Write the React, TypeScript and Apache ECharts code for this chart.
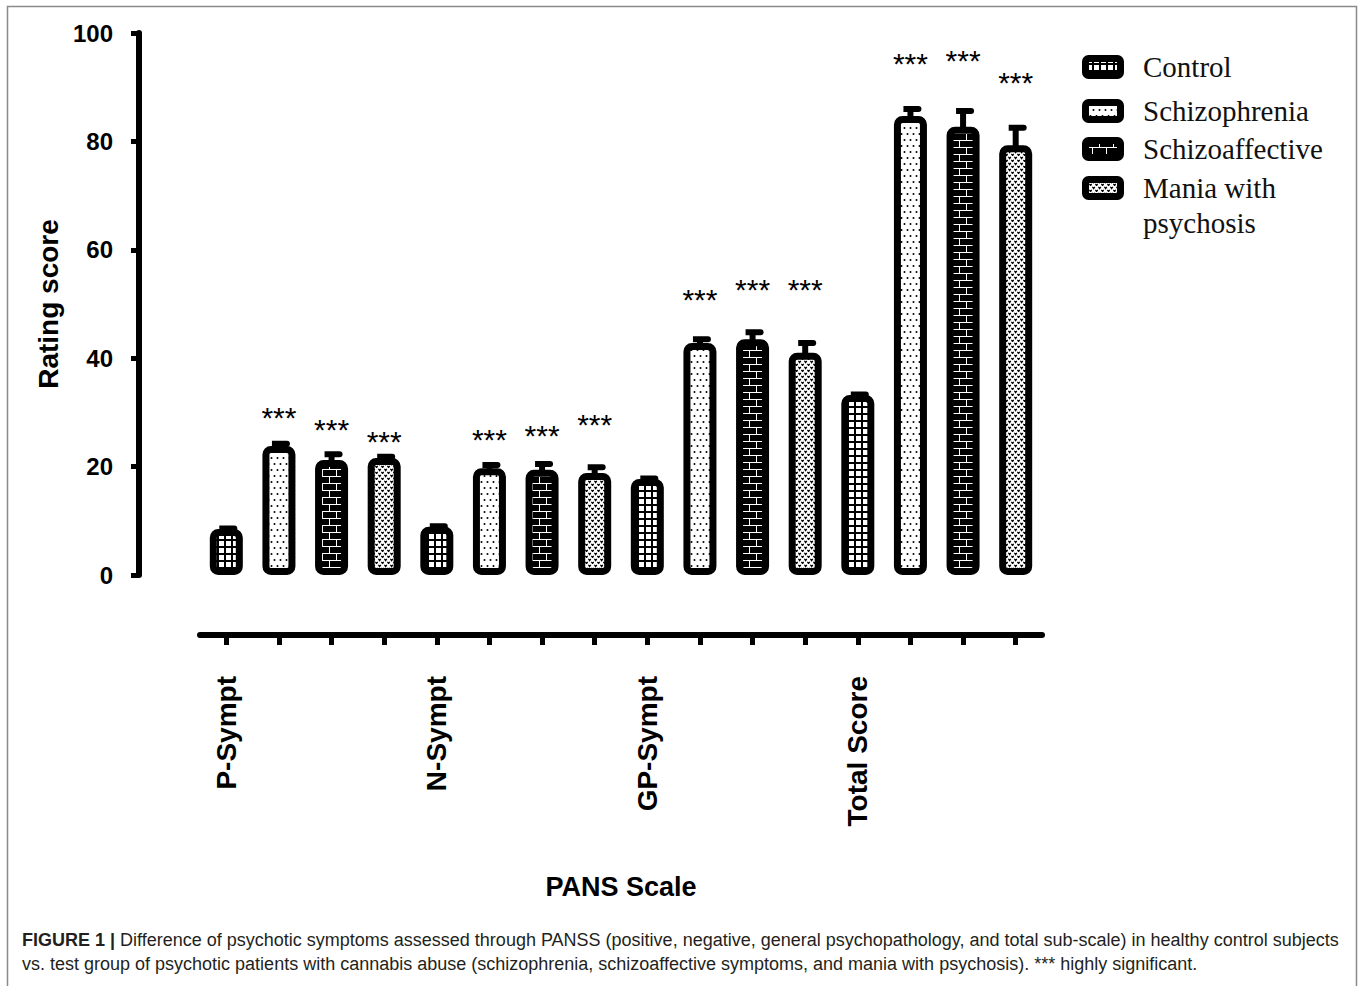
import React, { useEffect, useRef } from 'react';
import * as echarts from 'echarts';

// ---------- data ----------
const scales = ['P-Sympt', 'N-Sympt', 'GP-Sympt', 'Total Score'];
const groups = ['Control', 'Schizophrenia', 'Schizoaffective', 'Mania with psychosis'];

// mean rating score per scale (P, N, GP, Total)
const controlMean = [8.5, 8.9, 17.7, 33.2];
const schizophreniaMean = [23.8, 19.7, 42.8, 84.7];
const schizoaffectiveMean = [21.2, 19.4, 43.5, 82.7];
const maniaMean = [21.6, 18.8, 41.0, 79.3];

// upper error (SEM) per scale
const controlErr = [0.1, 0.1, 0.1, 0.1];
const schizophreniaErr = [0.4, 0.6, 0.7, 1.3];
const schizoaffectiveErr = [1.1, 1.1, 1.3, 2.9];
const maniaErr = [0.2, 1.1, 1.8, 3.2];

// significance markers and the level (rating score) at which they are written
const controlSig = ['', '', '', ''];
const schizophreniaSig = ['***', '***', '***', '***'];
const schizoaffectiveSig = ['***', '***', '***', '***'];
const maniaSig = ['***', '***', '***', '***'];
const controlSigLevel = [0, 0, 0, 0];
const schizophreniaSigLevel = [30.4, 26.2, 52.2, 95.6];
const schizoaffectiveSigLevel = [28.2, 27.1, 53.9, 96.3];
const maniaSigLevel = [26.0, 29.0, 53.9, 92.1];

const yTicks = [0, 20, 40, 60, 80, 100];

const xTitle = 'PANS Scale';
const yTitle = 'Rating score';
const captionBold = 'FIGURE 1 |';
const captionLine1 =
  ' Difference of psychotic symptoms assessed through PANSS (positive, negative, general psychopathology, and total sub-scale) in healthy control subjects';
const captionLine2 =
  'vs. test group of psychotic patients with cannabis abuse (schizophrenia, schizoaffective symptoms, and mania with psychosis). *** highly significant.';

const groupMeans = [controlMean, schizophreniaMean, schizoaffectiveMean, maniaMean];
const groupErrs = [controlErr, schizophreniaErr, schizoaffectiveErr, maniaErr];
const groupSig = [controlSig, schizophreniaSig, schizoaffectiveSig, maniaSig];
const groupSigLevel = [controlSigLevel, schizophreniaSigLevel, schizoaffectiveSigLevel, maniaSigLevel];

// ---------- patterns ----------
function makeTile(w: number, h: number, draw: (ctx: CanvasRenderingContext2D) => void) {
  const c = document.createElement('canvas');
  c.width = w;
  c.height = h;
  const ctx = c.getContext('2d') as CanvasRenderingContext2D;
  draw(ctx);
  return { image: c, repeat: 'repeat', imageWidth: w, imageHeight: h } as any;
}

function buildPatterns() {
  const grid = makeTile(7, 7, (ctx) => {
    ctx.fillStyle = '#fff';
    ctx.fillRect(0, 0, 7, 7);
    ctx.fillStyle = '#000';
    ctx.fillRect(0, 0, 7, 2);
    ctx.fillRect(0, 0, 2, 7);
  });
  const dots = makeTile(6, 12, (ctx) => {
    ctx.fillStyle = '#fff';
    ctx.fillRect(0, 0, 6, 12);
    ctx.fillStyle = '#000';
    ctx.beginPath();
    ctx.arc(1.5, 2, 1.0, 0, Math.PI * 2);
    ctx.arc(4.5, 8, 1.0, 0, Math.PI * 2);
    ctx.fill();
  });
  const brick = makeTile(14, 14, (ctx) => {
    ctx.fillStyle = '#000';
    ctx.fillRect(0, 0, 14, 14);
    ctx.fillStyle = '#fff';
    ctx.fillRect(0, 0, 14, 1);
    ctx.fillRect(0, 7, 14, 1);
    ctx.fillRect(7, 0, 1, 7);
    ctx.fillRect(0, 7, 1, 7);
  });
  const vees = makeTile(6, 6, (ctx) => {
    ctx.fillStyle = '#fff';
    ctx.fillRect(0, 0, 6, 6);
    ctx.strokeStyle = '#000';
    ctx.lineWidth = 1.2;
    ctx.beginPath();
    ctx.moveTo(0.4, 0.8);
    ctx.lineTo(1.6, 2.6);
    ctx.lineTo(2.8, 0.8);
    ctx.moveTo(3.4, 3.8);
    ctx.lineTo(4.6, 5.6);
    ctx.lineTo(5.8, 3.8);
    ctx.stroke();
  });
  return [grid, dots, brick, vees];
}

const FONT = '"Liberation Sans", Arial, Helvetica, sans-serif';
const SERIF = '"Liberation Serif", "Times New Roman", serif';

export default function App() {
  const ref = useRef<HTMLDivElement>(null);

  useEffect(() => {
    if (!ref.current) return;
    const chart = echarts.init(ref.current, null, { renderer: 'svg' });
    const patterns = buildPatterns();

    const categories: string[] = [];
    scales.forEach((s) => groups.forEach((g) => categories.push(s + ' / ' + g)));

    const barSeries = groups.map((g, gi) => ({
      name: g,
      type: 'bar',
      barWidth: 33,
      barGap: '-100%',
      data: categories.map((_, i) => (i % 4 === gi ? groupMeans[gi][Math.floor(i / 4)] : '-')),
      itemStyle: {
        color: patterns[gi],
        borderColor: '#000',
        borderWidth: 7,
        borderRadius: 5,
      },
      z: 2,
    }));

    const errData = categories.map((_, i) => {
      const gi = i % 4;
      const si = Math.floor(i / 4);
      return [i, groupMeans[gi][si], groupErrs[gi][si], groupSig[gi][si] ? 1 : 0, groupSigLevel[gi][si]];
    });

    const errSeries = {
      type: 'custom',
      name: 'error',
      data: errData,
      encode: { x: 0, y: 1 },
      z: 3,
      clip: false,
      renderItem: (params: any, api: any) => {
        const idx = api.value(0);
        const mean = api.value(1);
        const err = api.value(2);
        const sig = api.value(3);
        const lvl = api.value(4);
        const base = api.coord([idx, mean]);
        const top = api.coord([idx, mean + err]);
        const x = base[0];
        const children: any[] = [
          {
            type: 'rect',
            shape: { x: x - 3, y: top[1], width: 6, height: Math.max(0, base[1] - top[1] + 3) },
            style: { fill: '#000' },
          },
          {
            type: 'rect',
            shape: { x: x - 7, y: top[1] - 3, width: 18, height: 6, r: [0, 3, 3, 0] },
            style: { fill: '#000' },
          },
        ];
        if (sig) {
          const p = api.coord([idx, lvl]);
          children.push({
            type: 'text',
            x: x,
            y: p[1] + 7,
            style: {
              text: '***',
              fontSize: 30,
              fontFamily: FONT,
              fill: '#000',
              align: 'center',
              verticalAlign: 'middle',
            },
          });
        }
        return { type: 'group', children };
      },
    };

    // legend drawn as graphics
    const legendY = [67, 111, 149, 188];
    const legendGraphics: any[] = [];
    groups.forEach((g, gi) => {
      legendGraphics.push({
        type: 'rect',
        shape: { x: 1085.5, y: legendY[gi] - 8.5, width: 35, height: 17, r: 3 },
        style: { fill: patterns[gi], stroke: '#000', lineWidth: 7 },
        silent: true,
      });
    });
    const legendText = ['Control', 'Schizophrenia', 'Schizoaffective', 'Mania with'];
    legendText.forEach((t, gi) => {
      legendGraphics.push({
        type: 'text',
        x: 1143,
        y: legendY[gi],
        style: { text: t, fontSize: 29, fontFamily: SERIF, fill: '#111', verticalAlign: 'middle' },
        silent: true,
      });
    });
    legendGraphics.push({
      type: 'text',
      x: 1143,
      y: 223,
      style: { text: 'psychosis', fontSize: 29, fontFamily: SERIF, fill: '#111', verticalAlign: 'middle' },
      silent: true,
    });

    chart.setOption({
      animation: false,
      backgroundColor: '#fff',
      grid: { left: 200, width: 842, top: 33, height: 542, containLabel: false },
      xAxis: {
        type: 'category',
        data: categories,
        offset: 60,
        name: xTitle,
        nameLocation: 'middle',
        nameGap: 238,
        nameTextStyle: { fontSize: 27, fontWeight: 'bold', fontFamily: FONT, color: '#000' },
        axisLine: { show: true, onZero: false, lineStyle: { color: '#000', width: 6 } },
        axisTick: { show: true, interval: 0, alignWithLabel: true, length: 10, lineStyle: { color: '#000', width: 5 } },
        axisLabel: {
          interval: 0,
          rotate: 90,
          margin: 41,
          fontSize: 28,
          fontWeight: 'bold',
          fontFamily: FONT,
          color: '#000',
          formatter: (v: string, i: number) => (i % 4 === 0 ? scales[Math.floor(i / 4)] : ''),
        },
        splitLine: { show: false },
      },
      yAxis: {
        type: 'value',
        min: yTicks[0],
        max: yTicks[yTicks.length - 1],
        interval: 20,
        offset: 61,
        name: yTitle,
        nameLocation: 'middle',
        nameRotate: 90,
        nameGap: 63,
        nameTextStyle: { fontSize: 28, fontWeight: 'bold', fontFamily: FONT, color: '#000' },
        axisLine: { show: true, lineStyle: { color: '#000', width: 6 } },
        axisTick: { show: true, length: 8, lineStyle: { color: '#000', width: 5 } },
        axisLabel: { margin: 26, fontSize: 24, fontWeight: 'bold', fontFamily: FONT, color: '#000' },
        splitLine: { show: false },
      },
      series: [...barSeries, errSeries],
      graphic: [
        {
          type: 'rect',
          shape: { x: 7.5, y: 6.5, width: 1349, height: 1000 },
          style: { fill: 'none', stroke: '#8a8a8a', lineWidth: 1.5 },
          silent: true,
        },
        ...legendGraphics,
        {
          type: 'text',
          x: 22,
          y: 940,
          style: {
            text: '{b|' + captionBold + '}' + captionLine1,
            fontSize: 18,
            fontFamily: FONT,
            fill: '#231f20',
            verticalAlign: 'middle',
            rich: { b: { fontWeight: 'bold', fontSize: 18, fontFamily: FONT, fill: '#231f20' } },
          },
          silent: true,
        },
        {
          type: 'text',
          x: 22,
          y: 964,
          style: {
            text: captionLine2,
            fontSize: 18,
            fontFamily: FONT,
            fill: '#231f20',
            verticalAlign: 'middle',
          },
          silent: true,
        },
      ],
    });

    return () => chart.dispose();
  }, []);

  return <div ref={ref} style={{ position: 'fixed', left: 0, top: 0, width: 1360, height: 986 }} />;
}
